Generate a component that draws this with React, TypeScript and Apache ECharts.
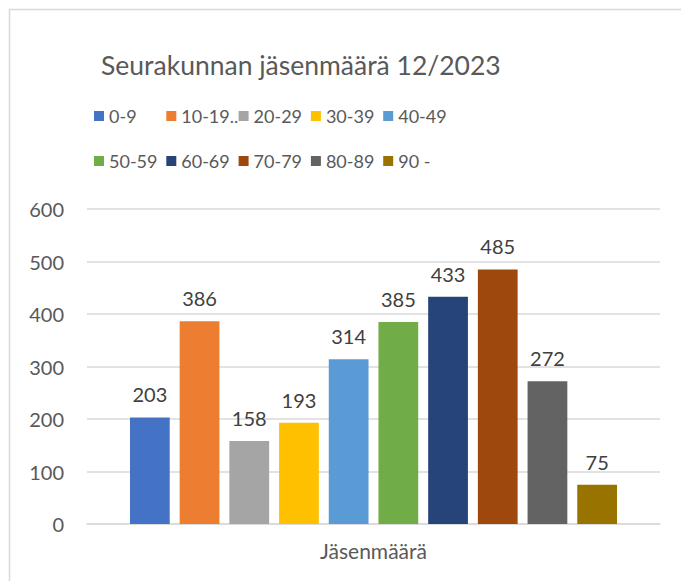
import React, { useEffect, useRef } from "react";
import * as echarts from "echarts";

const categories = ["Jäsenmäärä"];
const seriesNames = ["0-9", "10-19..", "20-29", "30-39", "40-49", "50-59", "60-69", "70-79", "80-89", "90 -"];
const seriesValues = [203, 386, 158, 193, 314, 385, 433, 485, 272, 75];
const seriesColors = ["#4472C4", "#ED7D31", "#A5A5A5", "#FFC000", "#5B9BD5", "#70AD47", "#264478", "#9E480E", "#636363", "#997300"];
const yTicks = [0, 100, 200, 300, 400, 500, 600];

const FONT = "Lato, 'Open Sans', sans-serif";

export default function App() {
  const ref = useRef<HTMLDivElement>(null);
  useEffect(() => {
    if (!ref.current) return;
    const chart = echarts.init(ref.current, undefined, { renderer: "svg" });
    const legends = seriesNames.map((name, i) => ({
      left: 94 + (i % 5) * 72.3,
      top: i < 5 ? 107 : 152,
      orient: "horizontal",
      itemWidth: 10,
      itemHeight: 10,
      padding: 0,
      icon: "rect",
      data: [name],
      textStyle: { color: "#595959", fontSize: 18, fontFamily: FONT },
    }));
    chart.setOption({
      animation: false,
      backgroundColor: "#ffffff",
      textStyle: { fontFamily: FONT },
      title: {
        text: "Seurakunnan jäsenmäärä 12/2023",
        left: 101,
        top: 51,
        padding: 0,
        textStyle: { color: "#595959", fontSize: 26.5, fontWeight: "normal", fontFamily: FONT },
      },
      legend: legends,
      grid: { left: 87, right: 21, top: 209, bottom: 57, containLabel: false },
      xAxis: {
        type: "category",
        data: categories,
        axisLine: { show: true, lineStyle: { color: "#d9d9d9", width: 1.5 } },
        axisTick: { show: false },
        axisLabel: { color: "#595959", fontSize: 21, fontFamily: FONT, margin: 16 },
      },
      yAxis: {
        type: "value",
        min: yTicks[0],
        max: yTicks[yTicks.length - 1],
        interval: 100,
        axisLine: { show: false },
        axisTick: { show: false },
        splitLine: { lineStyle: { color: "#d9d9d9", width: 1.5 } },
        axisLabel: { color: "#595959", fontSize: 20, fontFamily: FONT, margin: 23 },
      },
      graphic: [
        {
          type: "rect",
          shape: { x: 9.5, y: 9.5, width: 700, height: 600 },
          style: { fill: "none", stroke: "#d9d9d9", lineWidth: 1.5 },
          silent: true,
          z: -10,
        },
      ],
      series: seriesNames.map((name, i) => ({
        name,
        type: "bar",
        data: [seriesValues[i]],
        itemStyle: { color: seriesColors[i] },
        barGap: "25%",
        barCategoryGap: "15%",
        label: {
          show: true,
          position: "top",
          distance: 13,
          color: "#404040",
          fontSize: 20,
          fontFamily: FONT,
        },
      })),
    });
    return () => chart.dispose();
  }, []);
  return <div ref={ref} style={{ position: "absolute", left: 0, top: 0, width: 681, height: 581 }} />;
}
